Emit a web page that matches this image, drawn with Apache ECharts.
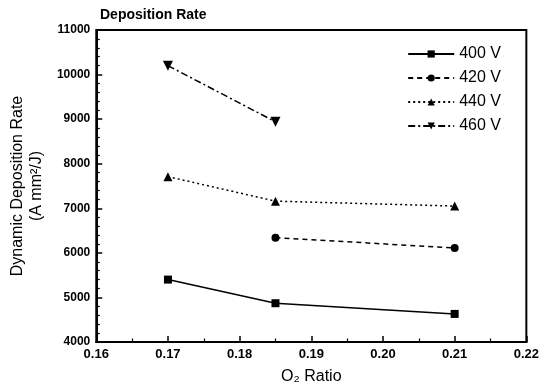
<!DOCTYPE html>
<html><head><meta charset="utf-8">
<script src="https://cdn.jsdelivr.net/npm/echarts@6/dist/echarts.min.js"></script>
<style>html,body{margin:0;padding:0;background:#fff}#c{width:542px;height:390px}</style>
</head><body><div id="c"></div>
<script>
const xTicks = [0.16, 0.17, 0.18, 0.19, 0.20, 0.21, 0.22];
const seriesNames = ['400 V', '420 V', '440 V', '460 V'];
const v400 = [[0.17, 5400], [0.185, 4870], [0.21, 4630]];
const v420 = [[0.185, 6340], [0.21, 6110]];
const v440 = [[0.17, 7710], [0.185, 7160], [0.21, 7050]];
const v460 = [[0.17, 10200], [0.185, 8940]];

const downTri = 'path://M0,0 L10,0 L5,9 Z';
const font = 'Liberation Sans, Arial, sans-serif';
function mk(name, data, symbol, type, size) {
  return {
    name, type: 'line', data, symbol, symbolSize: size,
    lineStyle: { color: '#000', width: 1.5, type },
    itemStyle: { color: '#000' },
    emphasis: { disabled: true }, animation: false
  };
}
const chart = echarts.init(document.getElementById('c'));
chart.setOption({
  backgroundColor: '#fff',
  animation: false,
  title: { text: 'Deposition Rate', left: 95, top: 3,
    textStyle: { fontFamily: font, fontSize: 14, fontWeight: 'bold', color: '#000' } },
  grid: { left: 94, right: 13, top: 30, bottom: 45, show: true, borderColor: '#000', borderWidth: 2, backgroundColor: 'rgba(0,0,0,0)' },
  legend: {
    data: seriesNames, orient: 'vertical', right: 36, top: 41,
    itemWidth: 46, itemHeight: 9, itemGap: 8,
    textStyle: { fontFamily: font, fontSize: 16, color: '#000' }
  },
  xAxis: {
    type: 'value', min: xTicks[0], max: xTicks[xTicks.length - 1], interval: 0.01,
    axisLine: { lineStyle: { color: '#000', width: 2 } },
    axisTick: { show: true, inside: true, length: 6, lineStyle: { color: '#000', width: 1.5 } },
    minorTick: { show: true, splitNumber: 2, length: 3.5, lineStyle: { color: '#000', width: 1.2 } },
    splitLine: { lineStyle: { color: 'rgba(0,0,0,0)' } },
    axisLabel: { formatter: v => v.toFixed(2), fontFamily: font, fontSize: 13, fontWeight: 'bold', color: '#000', margin: 6 },
    name: 'O₂ Ratio', nameLocation: 'middle', nameGap: 27,
    nameTextStyle: { fontFamily: font, fontSize: 16, color: '#000' }
  },
  yAxis: {
    type: 'value', min: 4000, max: 11000, interval: 1000,
    axisLine: { lineStyle: { color: '#000', width: 2 } },
    axisTick: { show: true, inside: true, length: 6, lineStyle: { color: '#000', width: 1.5 } },
    minorTick: { show: true, splitNumber: 5, length: 3.5, lineStyle: { color: '#000', width: 1.2 } },
    splitLine: { lineStyle: { color: 'rgba(0,0,0,0)' } },
    axisLabel: { formatter: v => String(v), fontFamily: font, fontSize: 12, fontWeight: 'bold', color: '#000', margin: 6 },
    name: 'Dynamic Deposition Rate\n(A mm²/J)', nameLocation: 'middle', nameGap: 44,
    nameTextStyle: { fontFamily: font, fontSize: 16, color: '#000', lineHeight: 19 }
  },
  series: [
    mk(seriesNames[0], v400, 'rect', 'solid', 8),
    mk(seriesNames[1], v420, 'circle', [5, 4], 8),
    mk(seriesNames[2], v440, 'triangle', [2, 3], 9),
    mk(seriesNames[3], v460, downTri, [7, 3, 2, 3], 10)
  ]
});
</script></body></html>
